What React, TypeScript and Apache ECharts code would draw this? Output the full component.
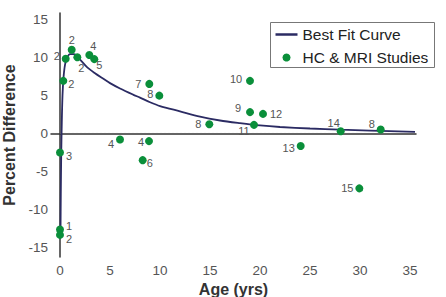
import React, { useEffect, useRef } from "react";
import * as echarts from "echarts";

// Study points: age (yrs), percent difference, and the study label shown beside each dot
const studyAge = [0, 0, 0, 0.33, 0.57, 1.17, 1.73, 2.93, 3.43, 6.0, 8.9, 8.27, 8.93, 9.93, 14.93, 19.0, 19.0, 20.3, 19.4, 24.07, 28.07, 32.07, 29.93];
const studyDiff = [-12.6, -13.3, -2.5, 6.9, 9.8, 10.97, 10.0, 10.3, 9.75, -0.8, -1.0, -3.5, 6.5, 4.96, 1.2, 6.9, 2.8, 2.57, 1.13, -1.65, 0.3, 0.52, -7.2];
const studyLabel = ["1", "2", "3", "2", "2", "2", "2", "4", "5", "4", "4", "6", "7", "8", "8", "10", "9", "12", "11", "13", "14", "8", "15"];
// label offsets (px) relative to each dot
const labelOffsets: [number, number][] = [
  [9, -4], [9, 4], [9, 3], [8, 3], [-9, -3], [0, -10], [4, 11], [4, -9], [5, 6],
  [-9, 4], [-8, 1], [7, 3], [-11, 0], [-9, -2], [-11, 0], [-14, -2], [-12, -4],
  [13, 0], [-10, 6], [-12, 2], [-7, -8], [-9, -6], [-12, 0],
];

// Best fit curve samples
const curveAge = [0.05, 0.08, 0.12, 0.18, 0.25, 0.35, 0.5, 0.7, 1.0, 1.4, 2.0, 2.7, 3.5, 4.3, 5.0, 6.0, 7.3, 8.0, 9.0, 10.0, 12.0, 14.0, 16.0, 18.0, 20.0, 22.0, 25.0, 28.0, 31.0, 35.5];
const curveDiff = [-13.2, -8, -3, 1.5, 5.0, 7.3, 9.0, 9.9, 10.4, 10.4, 9.7, 8.7, 7.9, 7.2, 6.6, 5.9, 5.1, 4.7, 4.1, 3.6, 2.9, 2.2, 1.7, 1.35, 1.05, 0.85, 0.65, 0.5, 0.38, 0.22];

// Zero reference line extent
const zeroLineAge = [-0.8, 35];

const xTicks = [0, 5, 10, 15, 20, 25, 30, 35];
const yTicks = [-15, -10, -5, 0, 5, 10, 15];

const NAVY = "#2b2b63";
const GREEN = "#0a8f3a";
const FONT = "Liberation Sans, Arial, sans-serif";
const DOT = 8;

export default function App() {
  const ref = useRef<HTMLDivElement>(null);

  useEffect(() => {
    if (!ref.current) return;
    const chart = echarts.init(ref.current, undefined, { renderer: "svg" });

    const points = studyAge.map((a, i) => ({
      value: [a, studyDiff[i]],
      label: {
        show: true,
        formatter: studyLabel[i],
        position: [DOT / 2 + labelOffsets[i][0], DOT / 2 + labelOffsets[i][1]],
        align: "center",
        verticalAlign: "middle",
        fontSize: 11,
        color: "#555",
        textBorderWidth: 0,
        fontFamily: FONT,
      },
    }));

    chart.setOption({
      animation: false,
      backgroundColor: "#ffffff",
      grid: { left: 51, right: 30, top: 13, bottom: 40, outerBoundsMode: "none", containLabel: false },
      xAxis: {
        type: "value",
        min: -0.9,
        max: 35.6,
        name: "Age (yrs)",
        nameLocation: "middle",
        nameGap: 22,
        nameTextStyle: { fontSize: 16, fontWeight: "bold", color: "#333", fontFamily: FONT },
        splitLine: { show: false },
        axisTick: { show: false },
        axisLine: { lineStyle: { color: "#333", width: 1.5 } },
        axisLabel: { customValues: xTicks, fontSize: 13.5, color: "#555", margin: 6, fontFamily: FONT },
      },
      yAxis: {
        type: "value",
        min: -16.2,
        max: 15.8,
        name: "Percent Difference",
        nameLocation: "middle",
        nameGap: 32,
        nameTextStyle: { fontSize: 16, fontWeight: "bold", color: "#333", fontFamily: FONT },
        splitLine: { show: false },
        axisTick: { show: false },
        axisLine: { show: true, lineStyle: { color: "#333", width: 1.5 } },
        axisLabel: { customValues: yTicks, fontSize: 13.5, color: "#555", margin: 3, fontFamily: FONT },
      },
      series: [
        {
          name: "zero",
          type: "line",
          data: zeroLineAge.map((a) => [a, 0]),
          showSymbol: false,
          symbol: "none",
          lineStyle: { color: "#666", width: 1, type: [2, 2] },
          silent: true,
          z: 1,
        },
        {
          name: "Best Fit Curve",
          type: "line",
          data: curveAge.map((a, i) => [a, curveDiff[i]]),
          showSymbol: false,
          symbol: "none",
          smooth: 0.3,
          lineStyle: { color: NAVY, width: 1.8 },
          z: 2,
        },
        {
          name: "HC & MRI Studies",
          type: "scatter",
          data: points,
          symbolSize: DOT,
          itemStyle: { color: GREEN, opacity: 1 },
          z: 3,
        },
      ],
      graphic: [
        {
          type: "group",
          left: 270,
          top: 22,
          children: [
            { type: "rect", shape: { x: 0, y: 0, width: 164, height: 45 }, style: { fill: "#fff", stroke: "#777", lineWidth: 1 } },
            { type: "line", shape: { x1: 5, y1: 12, x2: 27, y2: 12 }, style: { stroke: NAVY, lineWidth: 2.5 } },
            { type: "circle", shape: { cx: 16, cy: 35, r: 4 }, style: { fill: GREEN } },
            {
              type: "text",
              x: 32,
              y: 12,
              style: { text: "Best Fit Curve", fontSize: 15.5, fill: "#222", verticalAlign: "middle", fontFamily: FONT },
            },
            {
              type: "text",
              x: 32,
              y: 35,
              style: { text: "HC & MRI Studies", fontSize: 15.5, fill: "#222", verticalAlign: "middle", fontFamily: FONT },
            },
          ],
        },
      ],
    });

    return () => chart.dispose();
  }, []);

  return <div ref={ref} style={{ position: "fixed", left: 0, top: 0, width: 446, height: 297 }} />;
}
